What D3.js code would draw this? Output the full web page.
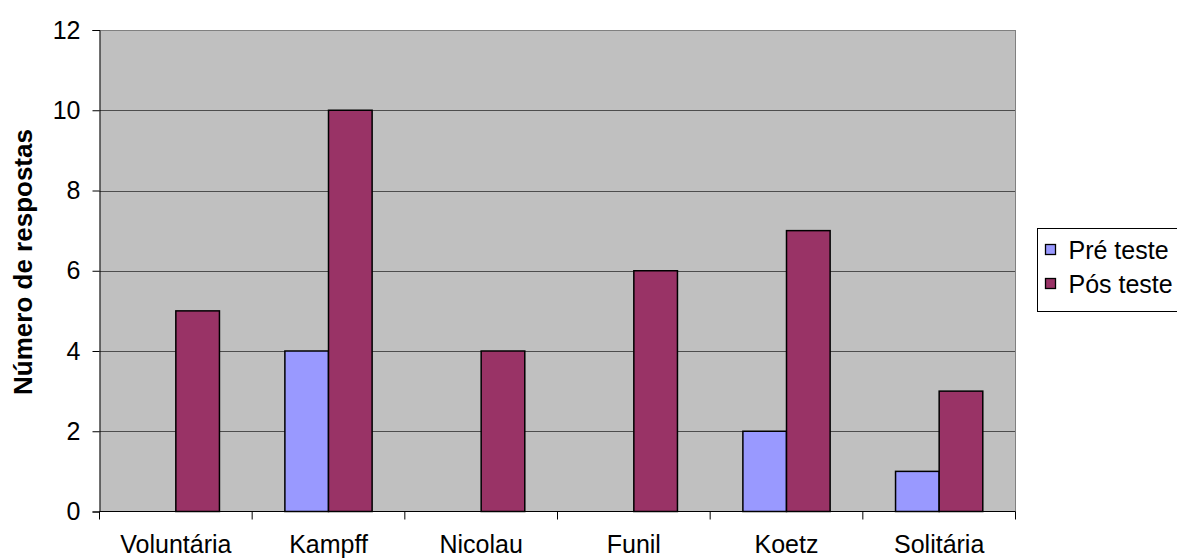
<!DOCTYPE html>
<html><head><meta charset="utf-8">
<script src="https://cdn.jsdelivr.net/npm/d3@7"></script>
<style>body{margin:0;background:#fff}svg{display:block}text{font-family:"Liberation Sans",Arial,sans-serif}</style>
</head><body>
<svg id="c" width="1177" height="559"></svg>
<script>
const categories = ["Voluntária","Kampff","Nicolau","Funil","Koetz","Solitária"];
const seriesNames = ["Pré teste","Pós teste"];
const preValues = [0,4,0,0,2,1];
const postValues = [5,10,4,6,7,3];
const yTicks = [0,2,4,6,8,10,12];
const colors = ["#9999FF","#993366"];

const svg = d3.select("#c");
const L=99.5, R=1015.5, T=30, B=511.5;
const FS = 25;
const x = d3.scaleBand().domain(categories).range([L,R]);
const y = d3.scaleLinear().domain([0,12]).range([B,T]);
const bw = x.bandwidth()/3.5;
const sub = d3.scaleBand().domain(seriesNames).range([bw*0.75, bw*2.75]);

svg.append("rect").attr("x",L).attr("y",T).attr("width",R-L).attr("height",B-T).attr("fill","#C0C0C0");
// gridlines
svg.append("g").selectAll("line").data(yTicks.filter(d=>d>0)).join("line")
 .attr("x1",L).attr("x2",R).attr("y1",d=>Math.round(y(d))+0.5).attr("y2",d=>Math.round(y(d))+0.5)
 .attr("stroke",d=>d===12?"#808080":"#000").attr("stroke-width",1).attr("stroke-opacity",d=>d===12?1:0.6);
svg.append("line").attr("x1",R).attr("x2",R).attr("y1",T).attr("y2",B).attr("stroke","#808080");

const data = categories.map((c,i)=>({c, vals:[preValues[i],postValues[i]]}));
const g = svg.append("g");
data.forEach(d=>{
  d.vals.forEach((v,j)=>{
    if(v<=0) return;
    g.append("rect").attr("x",x(d.c)+sub(seriesNames[j])).attr("y",y(v))
     .attr("width",sub.bandwidth()).attr("height",y(0)-y(v))
     .attr("fill",colors[j]).attr("stroke","#000").attr("stroke-width",1.5);
  });
});

// y axis
const ya = svg.append("g").attr("transform",`translate(${L},0)`)
 .call(d3.axisLeft(y).tickValues(yTicks).tickSize(7).tickPadding(12));
ya.select(".domain").attr("stroke","#000");
ya.selectAll("text").attr("font-size",FS).attr("fill","#000");
// x axis
const xa = svg.append("g").attr("transform",`translate(0,${B})`);
xa.append("line").attr("x1",L).attr("x2",R).attr("stroke","#000");
xa.selectAll("line.t").data(categories.concat(["_end"])).join("line").attr("class","t")
 .attr("x1",(d,i)=>L+i*x.step()).attr("x2",(d,i)=>L+i*x.step()).attr("y1",0).attr("y2",8).attr("stroke","#000");
xa.selectAll("text").data(categories).join("text")
 .attr("x",d=>x(d)+x.bandwidth()/2).attr("y",41.5).attr("text-anchor","middle").attr("font-size",FS).text(d=>d);

svg.append("text").attr("transform","translate(32,262) rotate(-90)").attr("text-anchor","middle")
 .attr("font-size",26).attr("font-weight","bold").text("Número de respostas");

// legend
const lg = svg.append("g").attr("transform","translate(1037.5,228.5)");
lg.append("rect").attr("x",0).attr("y",0).attr("width",200).attr("height",83).attr("fill","#fff").attr("stroke","#000");
seriesNames.forEach((s,i)=>{
  const cy = 21+i*34;
  lg.append("rect").attr("x",8).attr("y",cy-5).attr("width",10).attr("height",10).attr("fill",colors[i]).attr("stroke","#000").attr("stroke-width",1.3);
  lg.append("text").attr("x",31).attr("y",cy+9).attr("font-size",25).text(s);
});
</script>
</body></html>
